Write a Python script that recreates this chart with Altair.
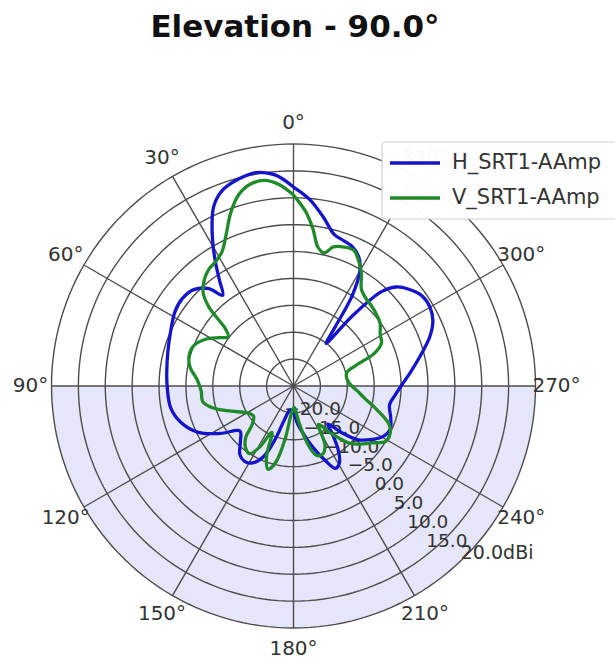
import altair as alt
import numpy as np
import pandas as pd

# Azimuth cut of the antenna pattern at 90° elevation: angle (deg) and gain (dBi)
h_angle = [0, 5, 10, 15, 20, 24, 28, 32, 35, 38, 41, 46, 52, 58, 66, 75, 84, 90,
           100, 108, 116, 123, 130, 136, 142, 147, 152, 157, 161, 165, 172, 180,
           186, 192, 198, 203, 207, 211, 215, 219, 222, 226, 230, 235, 241, 246,
           252, 259, 265, 270, 277, 285, 290, 295, 300, 305, 310, 314, 317, 320,
           322.5, 325, 327, 330, 333, 337, 341, 345, 350, 355, 360]
h_gain = [12.0, 14.4, 15.3, 14.8, 13.7, 11.5, 7.2, 2.5, -1.0, -3.6, -1.0, 0.8, 1.3,
          1.0, 0.0, -0.8, -1.3, -1.5, -1.8, -3.0, -5.3, -8.8, -12.0, -10.8, -8.8,
          -8.3, -8.8, -10.7, -14.5, -18.5, -20.5, -20.0, -18.0, -15.8, -12.8, -10.0,
          -7.8, -8.4, -10.5, -13.5, -15.5, -12.5, -9.5, -7.6, -5.8, -5.3, -6.0, -6.8,
          -6.0, -5.0, -3.0, -0.1, 2.0, 3.6, 4.3, 4.2, 3.0, 1.5, -1.0, -8.0, -15.0,
          -11.0, -5.0, -0.3, 1.8, 3.1, 3.6, 4.2, 6.9, 9.8, 12.0]

v_angle = [0, 4, 8, 12, 16, 20, 24, 28, 32, 36, 40, 44, 47, 50, 53, 57, 62, 68, 74,
           80, 86, 93, 100, 106, 112, 120, 127, 133, 137, 142, 147, 151, 155, 159,
           163, 167, 171, 176, 182, 188, 193, 198, 203, 208, 213, 218, 224, 229,
           234, 239, 244, 248, 254, 260, 266, 272, 278, 284, 288, 292, 296, 301,
           306, 311, 316, 321, 325, 329, 332, 336, 340, 344, 347, 350, 353, 356, 360]
v_gain = [10.5, 12.5, 13.6, 13.4, 12.0, 9.2, 5.8, 3.3, 2.3, 1.8, 0.8, -0.8, -3.5,
          -8.5, -9.8, -8.5, -6.5, -5.0, -4.8, -5.5, -7.0, -7.8, -7.9, -9.8, -12.5,
          -15.0, -15.7, -14.5, -12.0, -10.5, -10.0, -12.0, -15.5, -11.0, -8.8, -10.5,
          -15.0, -20.0, -21.0, -18.5, -14.5, -11.5, -11.2, -12.5, -16.5, -14.0,
          -10.3, -8.5, -7.0, -5.0, -5.0, -5.8, -8.8, -11.5, -13.2, -14.5, -15.0,
          -14.8, -13.0, -8.8, -6.8, -6.2, -5.1, -4.6, -4.2, -3.8, -3.0, -0.5, 1.0,
          2.6, 2.5, 1.9, 0.4, 1.2, 4.5, 7.5, 10.5]

series_names = ["H_SRT1-AAmp", "V_SRT1-AAmp"]
series_colors = ["#1414cc", "#1f8a2a"]

ring_values = [-20, -15, -10, -5, 0, 5, 10, 15, 20]
spoke_angles = list(range(0, 360, 30))
r_min, r_max = -25, 20
title_text = "Elevation - 90.0°"

# Canvas geometry (pixels): polar centre and outer radius
W, H = 615, 660
CX, CY = 293.5, 386
R_PX = 242
PX_PER_DB = R_PX / (r_max - r_min)
RLABEL_ANGLE = 225.5

x_scale = alt.Scale(domain=[-CX, W - CX], nice=False, zero=False)
y_scale = alt.Scale(domain=[CY - H, CY], nice=False, zero=False)


def polar(chart, gain="datum.gain", angle="datum.angle", extra=0, prefix=""):
    rad = f"(({gain}) - ({r_min})) * {PX_PER_DB} + {extra}"
    return chart.transform_calculate(
        **{
            prefix + "px": f"-({rad}) * sin(({angle}) * PI / 180)",
            prefix + "py": f"({rad}) * cos(({angle}) * PI / 180)",
        }
    )


X = lambda f="px": alt.X(f"{f}:Q", scale=x_scale, axis=None)
Y = lambda f="py": alt.Y(f"{f}:Q", scale=y_scale, axis=None)

# Pattern table
pattern = pd.concat(
    [
        pd.DataFrame({"angle": h_angle, "gain": h_gain, "series": series_names[0]}),
        pd.DataFrame({"angle": v_angle, "gain": v_gain, "series": series_names[1]}),
    ],
    ignore_index=True,
)

# Shaded lower half of the polar disc (90° .. 270°)
half_angles = np.arange(90, 271, 2)
shade_df = pd.DataFrame({"angle": half_angles, "gain": r_max, "zero": 0.0})
shade = polar(alt.Chart(shade_df)).mark_area(
    color="#e6e6fa", opacity=1
).encode(x=X(), y=Y(), y2=alt.Y2("zero:Q"))

# Concentric gain rings
circle_angles = np.arange(0, 361, 2)
ring_df = pd.DataFrame(
    [(g, a) for g in ring_values for a in circle_angles], columns=["gain", "angle"]
)
rings = polar(alt.Chart(ring_df)).mark_line(
    color="#4d4d4d", strokeWidth=1.4
).encode(x=X(), y=Y(), detail="gain:N", order="angle:Q")

# Angular spokes every 30°
spoke_df = pd.DataFrame({"angle": spoke_angles, "gain": r_max, "zero": 0.0})
spokes = polar(alt.Chart(spoke_df)).mark_rule(
    color="#4d4d4d", strokeWidth=1.4
).encode(x=alt.X("zero:Q", scale=x_scale, axis=None),
         y=alt.Y("zero:Q", scale=y_scale, axis=None),
         x2="px:Q", y2="py:Q")

# Angle labels outside the frame
theta_labels = (
    polar(alt.Chart(spoke_df), extra=21)
    .transform_calculate(label="datum.angle + '°'")
    .mark_text(font="DejaVu Sans", fontSize=20, color="#333333",
               align="center", baseline="middle")
    .encode(x=X(), y=Y(), text="label:N")
)

# Radial gain labels along a ray
rlab_df = pd.DataFrame({"gain": ring_values, "angle": RLABEL_ANGLE})
rlabels = (
    polar(alt.Chart(rlab_df))
    .transform_filter(f"datum.gain < {r_max}")
    .transform_calculate(label="format(datum.gain, '.1f')")
    .mark_text(font="DejaVu Sans", fontSize=18.5, color="#333333",
               align="center", baseline="middle", dy=4)
    .encode(x=X(), y=Y(), text="label:N")
)
rlabel_outer = (
    polar(alt.Chart(rlab_df))
    .transform_filter(f"datum.gain == {r_max}")
    .transform_calculate(label="format(datum.gain, '.1f') + 'dBi'")
    .mark_text(font="DejaVu Sans", fontSize=19, color="#333333",
               align="center", baseline="middle", dx=31, dy=-3)
    .encode(x=X(), y=Y(), text="label:N")
)

# Pattern curves
color_scale = alt.Scale(domain=series_names, range=series_colors)
curves = polar(alt.Chart(pattern)).mark_line(
    strokeWidth=3.3, interpolate="catmull-rom"
).encode(
    x=X(), y=Y(),
    color=alt.Color("series:N", scale=color_scale, legend=None),
    order="angle:Q",
    detail="series:N",
)

# Legend box (pixel positions via identity scales)
legend_df = pd.DataFrame({"series": series_names, "row": range(len(series_names))})
legend_box = alt.Chart(pd.DataFrame({"k": [0]})).mark_rect(
    fill="white", fillOpacity=0.97, stroke="#cfcfcf", strokeWidth=1.2, cornerRadius=4
).encode(x=alt.value(382), x2=alt.value(630), y=alt.value(142), y2=alt.value(219))
legend_base = alt.Chart(legend_df).transform_calculate(ly="163 + 35 * datum.row")
legend_lines = legend_base.mark_rule(strokeWidth=3.5).encode(
    x=alt.value(390), x2=alt.value(440),
    y=alt.Y("ly:Q", scale=None, axis=None),
    color=alt.Color("series:N", scale=color_scale, legend=None),
)
legend_text = legend_base.mark_text(
    font="DejaVu Sans", fontSize=21, color="#333333", align="left", baseline="middle"
).encode(x=alt.value(452), y=alt.Y("ly:Q", scale=None, axis=None), text="series:N")

title = alt.Chart(pd.DataFrame({"t": [title_text]})).mark_text(
    font="DejaVu Sans", fontSize=31, fontWeight="bold", color="#111111",
    align="center", baseline="alphabetic"
).encode(x=alt.value(295), y=alt.value(37), text="t:N")

chart = alt.layer(
    shade, rings, spokes, theta_labels, rlabels, rlabel_outer, curves,
    legend_box, legend_lines, legend_text, title
).properties(
    width=W, height=H, padding=0, autosize=alt.AutoSizeParams(type="none"),
    background="white",
).configure_view(stroke=None)

chart.save("out.html", embed_options={"renderer": "svg", "actions": False})
